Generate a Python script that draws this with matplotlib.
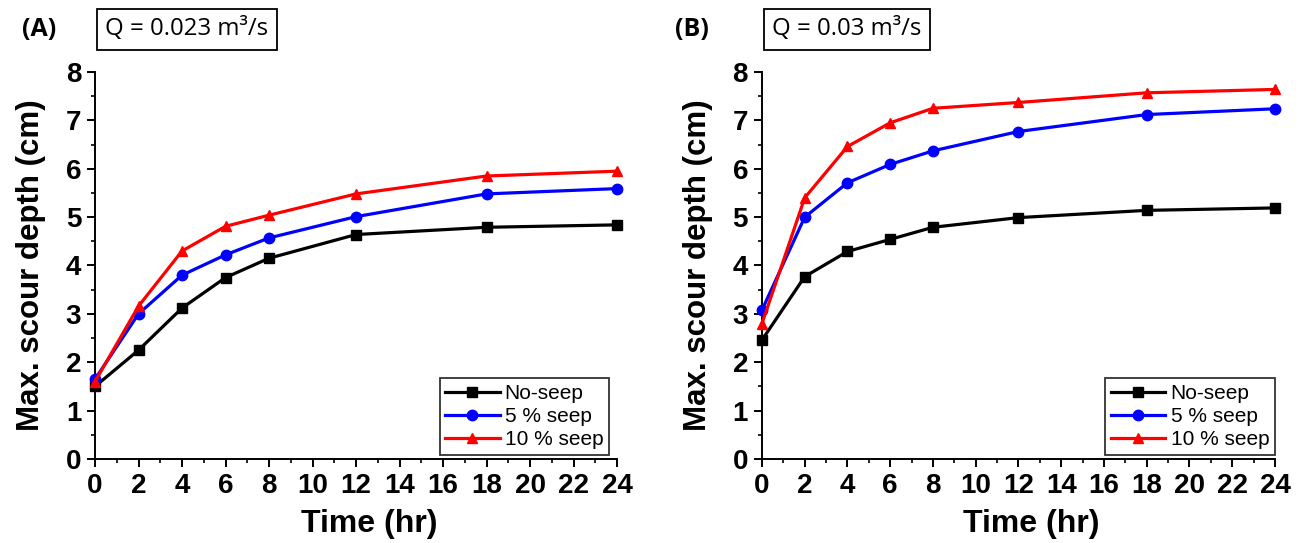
import matplotlib
matplotlib.use("Agg")
import matplotlib.pyplot as plt
from matplotlib.ticker import MultipleLocator

# Measured scour depth (cm) against time (hr)
time_hr = [0, 2, 4, 6, 8, 12, 18, 24]

depth_a_noseep = [1.50, 2.25, 3.12, 3.75, 4.15, 4.64, 4.79, 4.84]
depth_a_5seep = [1.65, 3.00, 3.80, 4.22, 4.57, 5.01, 5.48, 5.59]
depth_a_10seep = [1.60, 3.16, 4.30, 4.81, 5.04, 5.48, 5.85, 5.95]

depth_b_noseep = [2.46, 3.77, 4.29, 4.54, 4.79, 4.99, 5.14, 5.19]
depth_b_5seep = [3.08, 5.00, 5.71, 6.09, 6.37, 6.77, 7.12, 7.24]
depth_b_10seep = [2.80, 5.40, 6.46, 6.95, 7.25, 7.37, 7.57, 7.64]

series_labels = ["No-seep", "5 % seep", "10 % seep"]
series_colors = ["#000000", "#0000ff", "#ff0000"]
series_markers = ["s", "o", "^"]

panel_tags = ["(A)", "(B)"]
panel_flows = ["Q = 0.023 m\u00b3/s", "Q = 0.03 m\u00b3/s"]

x_ticks = [0, 2, 4, 6, 8, 10, 12, 14, 16, 18, 20, 22, 24]

ARIAL = "Liberation Sans"


def draw_panel(ax, series, tag, flow, tag_x, legend_anchor):
    for ys, lab, col, mk in zip(series, series_labels, series_colors, series_markers):
        ax.plot(time_hr, ys, color=col, marker=mk, markersize=7.5, linewidth=2.3,
                label=lab, clip_on=False, zorder=3)

    ax.set_xlim(0, 24)
    ax.set_ylim(0, 8)
    ax.set_xticks(x_ticks)
    ax.xaxis.set_minor_locator(MultipleLocator(1))
    ax.yaxis.set_major_locator(MultipleLocator(1))
    ax.yaxis.set_minor_locator(MultipleLocator(0.5))

    for side in ("top", "right"):
        ax.spines[side].set_visible(False)
    for side in ("left", "bottom"):
        ax.spines[side].set_linewidth(1.4)
    ax.tick_params(which="major", direction="out", length=5.5, width=1.4,
                   labelsize=20, pad=4.5)
    ax.tick_params(which="minor", direction="out", length=3, width=1.2)
    for lbl in ax.get_xticklabels() + ax.get_yticklabels():
        lbl.set_fontfamily(ARIAL)
        lbl.set_fontweight("bold")

    ax.set_xlabel("Time (hr)", fontsize=23, fontweight="bold", family=ARIAL, labelpad=7)
    ax.xaxis.label.set_x(0.525)
    ax.set_ylabel("Max. scour depth (cm)", fontsize=22.5, fontweight="bold", family=ARIAL,
                  labelpad=14)

    leg = ax.legend(loc="lower right", bbox_to_anchor=legend_anchor, frameon=True,
                    fancybox=False, edgecolor="black", handlelength=2.6,
                    handletextpad=0.25, borderpad=0.28, labelspacing=0.2,
                    borderaxespad=0.0, prop={"family": ARIAL, "size": 15})
    leg.get_frame().set_linewidth(1.3)

    ax.text(tag_x, 1.11, tag, transform=ax.transAxes, fontsize=18, fontweight="bold",
            family="Open Sans", ha="center", va="center")
    ax.text(0.02, 1.11, flow, transform=ax.transAxes, fontsize=17.3, family="Open Sans",
            ha="left", va="center",
            bbox=dict(boxstyle="square,pad=0.35", facecolor="white", edgecolor="black",
                      linewidth=1.3))


fig = plt.figure(figsize=(13.07, 5.43), dpi=100)
ax_a = fig.add_axes([0.0727, 0.1547, 0.3994, 0.7127])
ax_b = fig.add_axes([0.5830, 0.1547, 0.3925, 0.7127])

draw_panel(ax_a, [depth_a_noseep, depth_a_5seep, depth_a_10seep],
           panel_tags[0], panel_flows[0], -0.107, (0.985, 0.01))
draw_panel(ax_b, [depth_b_noseep, depth_b_5seep, depth_b_10seep],
           panel_tags[1], panel_flows[1], -0.136, (1.0, 0.01))

fig.savefig("out.png", dpi=100, facecolor="white")
